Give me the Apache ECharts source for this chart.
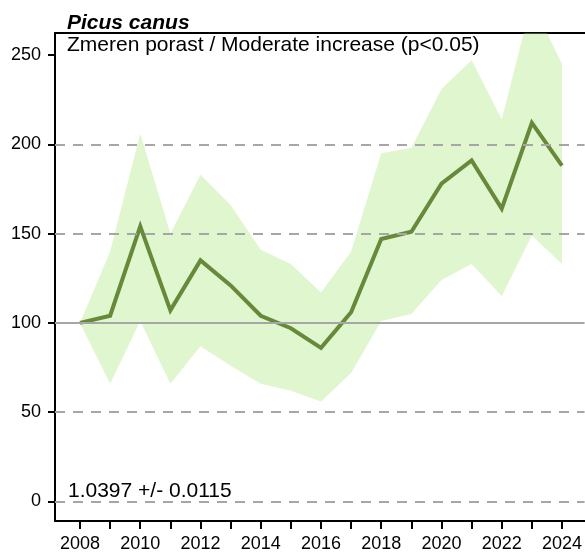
<!DOCTYPE html>
<html>
<head>
<meta charset="utf-8">
<script src="https://cdn.jsdelivr.net/npm/echarts@6/dist/echarts.min.js"></script>
<style>
html,body{margin:0;padding:0;background:#fff;}
#chart{width:585px;height:553px;}
</style>
</head>
<body>
<div id="chart"></div>
<script>
const years = [2008,2009,2010,2011,2012,2013,2014,2015,2016,2017,2018,2019,2020,2021,2022,2023,2024];
const indexValues = [100,104,154,107,135,121,104,97,86,106,147,151,178,191,164,212,188];
const upperValues = [100,140,206,150,183,166,141,133,117,140,195,198,231,247,214,280,245];
const lowerValues = [100,66,101,66,87,76,66,62,56,72,101,105,124,133,115,149,133];
const yTicks = [0,50,100,150,200,250];
const xLabelYears = [2008,2010,2012,2014,2016,2018,2020,2022,2024];
const dashedLevels = [0,50,150,200];
const baseLevel = 100;
const titleText = 'Picus canus';
const subtitleText = 'Zmeren porast / Moderate increase (p<0.05)';
const trendText = '1.0397 +/- 0.0115';

const FONT = '"Liberation Sans", Arial, sans-serif';
const chart = echarts.init(document.getElementById('chart'), null, {renderer:'canvas'});

const pairs = a => years.map((y,i)=>[y,a[i]]);

function renderBand(params, api){
  if (params.dataIndex !== 0) return;
  const pts = [];
  for (let i=0;i<years.length;i++) pts.push(api.coord([years[i], upperValues[i]]));
  for (let i=years.length-1;i>=0;i--) pts.push(api.coord([years[i], lowerValues[i]]));
  const cs = params.coordSys;
  return {
    type:'polygon',
    shape:{points:pts},
    style:{fill:'rgba(165,228,115,0.34)'},
    clipPath:{type:'rect', shape:{x:cs.x, y:cs.y, width:cs.width, height:cs.height}}
  };
}

chart.setOption({
  animation:false,
  backgroundColor:'#fff',
  grid:{left:55, right:0, top:33, bottom:31, containLabel:false},
  xAxis:[{
    type:'value', min:2007.17, max:2024.75,
    axisLine:{show:true, onZero:false, lineStyle:{color:'#000', width:2}},
    axisTick:{show:true, customValues:years, length:8, lineStyle:{color:'#000', width:2}},
    axisLabel:{show:true, customValues:xLabelYears, formatter:v=>String(v), color:'#000', fontSize:18, fontFamily:FONT, margin:14},
    splitLine:{show:false}
  },{
    type:'value', position:'top', min:2007.17, max:2024.75,
    axisLine:{show:true, onZero:false, lineStyle:{color:'#000', width:2}},
    axisTick:{show:false}, axisLabel:{show:false}, splitLine:{show:false}
  }],
  yAxis:{
    type:'value', min:-10.9, max:262.3,
    axisLine:{show:true, onZero:false, lineStyle:{color:'#000', width:2}},
    axisTick:{show:true, customValues:yTicks, length:7, lineStyle:{color:'#000', width:2}},
    axisLabel:{show:true, customValues:yTicks, color:'#000', fontSize:18, fontFamily:FONT, margin:14},
    splitLine:{show:false}
  },
  series:[
    {
      type:'line', data:[], z:1, silent:true,
      markLine:{
        silent:true, symbol:'none', label:{show:false}, animation:false,
        data:[
          ...dashedLevels.map(v=>({yAxis:v, lineStyle:{color:'#a6a6a6', width:2, type:[10,8]}})),
          {yAxis:baseLevel, lineStyle:{color:'#a6a6a6', width:2, type:'solid'}}
        ]
      }
    },
    {
      type:'custom', z:2, silent:true, clip:true,
      data:[[years[0], upperValues[0]]],
      encode:{x:0, y:1},
      renderItem:renderBand
    },
    {
      type:'line', data:pairs(indexValues), symbol:'none', z:3,
      lineStyle:{color:'#66893a', width:4, join:'miter'}
    }
  ],
  graphic:[
    {type:'text', left:67, top:13, z:10, style:{text:titleText, font:'italic bold 21px '+FONT, fill:'#000'}},
    {type:'text', left:67, top:35, z:10, style:{text:subtitleText, font:'21px '+FONT, fill:'#000'}},
    {type:'text', left:68, top:481, z:10, style:{text:trendText, font:'21px '+FONT, fill:'#000'}}
  ]
});
</script>
</body>
</html>
